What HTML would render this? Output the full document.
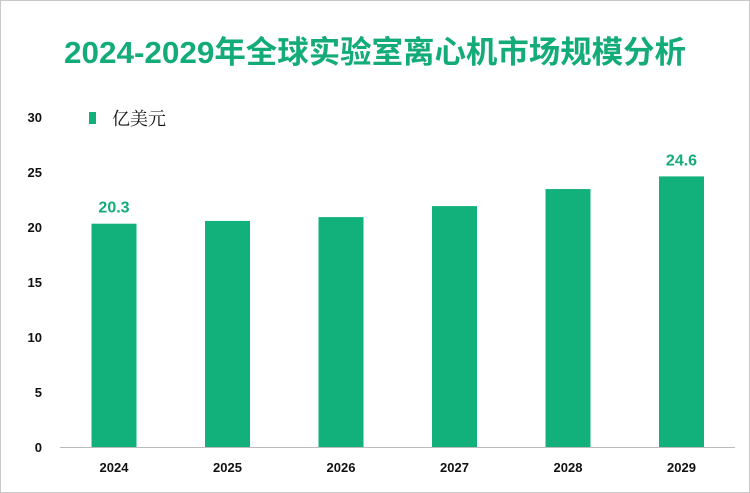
<!DOCTYPE html>
<html><head><meta charset="utf-8"><style>
body{margin:0;width:750px;height:493px;background:#fff;overflow:hidden}
#c{position:absolute;left:0;top:0;width:748px;height:491px;border:1px solid #c8c8c8}
</style></head><body>
<div id="c">
<svg width="750" height="493" style="position:absolute;left:-1px;top:-1px">
<text x="375" y="63" text-anchor="middle" font-family="Liberation Sans,'Noto Sans CJK SC',sans-serif" font-size="31" font-weight="bold" fill="#13ab77" textLength="622" lengthAdjust="spacingAndGlyphs">2024-2029年全球实验室离心机市场规模分析</text>
<rect x="89" y="112" width="7" height="12" fill="#12b07a"/>
<text x="112" y="125" font-family="'Noto Serif CJK SC',serif" font-size="18" fill="#111">亿美元</text>
<line x1="60" x2="735" y1="447.5" y2="447.5" stroke="#bbb"/>
<g id="g"></g>
</svg></div>
<script>
const categories=["2024","2025","2026","2027","2028","2029"];
const values=[20.3,20.55,20.9,21.9,23.45,24.6];
const labels=["20.3","","","","","24.6"];
const yTicks=[0,5,10,15,20,25,30];
const ns="http://www.w3.org/2000/svg";
const g=document.getElementById("g");
function y(v){return 447-v*11;}
function x(i){return 114+i*113.5;}
function mk(t,a,txt){const e=document.createElementNS(ns,t);for(const k in a)e.setAttribute(k,a[k]);if(txt!=null)e.textContent=txt;g.appendChild(e);return e;}
yTicks.forEach(v=>{const e=mk("text",{x:42,y:y(v)+5,"text-anchor":"end","font-family":"Liberation Sans,sans-serif","font-size":"13","font-weight":"bold",fill:"#111"},v);

});
categories.forEach((c,i)=>{
const b=mk("rect",{x:x(i)-22.5,y:y(values[i]),width:45,height:values[i]*11,fill:"#12b07a"});


const t=mk("text",{x:x(i),y:472,"text-anchor":"middle","font-family":"Liberation Sans,sans-serif","font-size":"13","font-weight":"bold",fill:"#111"},c);


if(labels[i]){const l=mk("text",{x:x(i),y:y(values[i])-11,"text-anchor":"middle","font-family":"Liberation Sans,sans-serif","font-size":"16","font-weight":"bold",fill:"#13ab77"},labels[i]);

}
});
</script>
</body></html>
